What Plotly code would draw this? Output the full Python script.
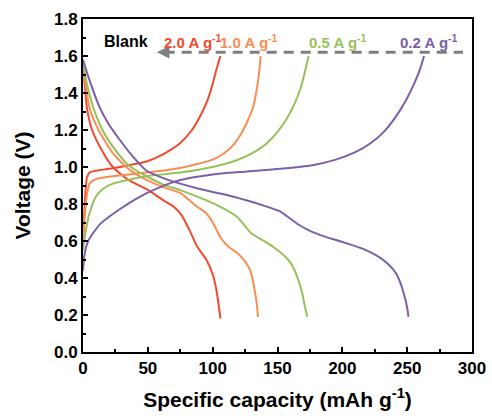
import plotly.graph_objects as go

# ---- data (capacity mAh/g, voltage V) ----
red_dis_x = [0, 1, 3, 7, 13, 23, 35, 49, 62, 70, 76, 82, 88, 95, 100, 103, 106]
red_dis_y = [1.58, 1.48, 1.32, 1.2, 1.11, 1.0, 0.93, 0.88, 0.82, 0.785, 0.74, 0.66, 0.57, 0.5, 0.42, 0.33, 0.18]
red_chg_x = [0, 1, 2, 3, 5, 10, 20, 35, 49, 62, 75, 84, 90, 96, 100, 103, 106]
red_chg_y = [0.6, 0.75, 0.88, 0.94, 0.97, 0.98, 0.99, 1.01, 1.03, 1.07, 1.13, 1.2, 1.27, 1.36, 1.45, 1.53, 1.6]

org_dis_x = [0, 2, 5, 12, 23, 35, 49, 62, 75, 82, 88, 95, 100, 106, 112, 119, 125, 129, 132, 134, 135]
org_dis_y = [1.56, 1.45, 1.32, 1.2, 1.075, 0.99, 0.93, 0.89, 0.86, 0.82, 0.785, 0.75, 0.7, 0.62, 0.57, 0.535, 0.49, 0.44, 0.35, 0.26, 0.19]
org_chg_x = [0, 1, 3, 5, 10, 23, 49, 75, 100, 108, 116, 122, 127, 131, 134, 136, 137]
org_chg_y = [0.58, 0.7, 0.85, 0.91, 0.935, 0.95, 0.97, 0.995, 1.04, 1.07, 1.12, 1.18, 1.25, 1.32, 1.42, 1.52, 1.6]

grn_dis_x = [0, 3, 8, 15, 23, 35, 49, 62, 75, 88, 100, 110, 119, 125, 130, 142, 152, 158, 162, 166, 169, 171, 173]
grn_dis_y = [1.57, 1.45, 1.32, 1.2, 1.11, 1.01, 0.95, 0.905, 0.875, 0.84, 0.805, 0.77, 0.73, 0.68, 0.64, 0.59, 0.54, 0.5, 0.46, 0.39, 0.32, 0.25, 0.19]
grn_chg_x = [0, 2, 5, 10, 15, 23, 49, 75, 100, 118, 132, 142, 150, 157, 163, 168, 171, 174]
grn_chg_y = [0.55, 0.65, 0.75, 0.84, 0.88, 0.91, 0.95, 0.97, 1.0, 1.035, 1.08, 1.13, 1.19, 1.26, 1.34, 1.43, 1.51, 1.6]

pur_dis_x = [0, 5, 13, 20, 28, 38, 49, 62, 75, 88, 100, 113, 126, 140, 152, 160, 167, 175, 186, 200, 215, 229, 236, 241, 245, 248, 250, 251]
pur_dis_y = [1.58, 1.47, 1.32, 1.23, 1.15, 1.06, 0.98, 0.94, 0.91, 0.885, 0.865, 0.845, 0.82, 0.79, 0.76, 0.72, 0.685, 0.655, 0.625, 0.595, 0.56, 0.51, 0.47, 0.43, 0.37, 0.3, 0.24, 0.19]
pur_chg_x = [0, 1, 4, 13, 28, 44, 59, 75, 100, 125, 152, 177, 195, 210, 222, 232, 241, 249, 256, 260, 263]
pur_chg_y = [0.44, 0.52, 0.6, 0.69, 0.77, 0.84, 0.89, 0.93, 0.96, 0.975, 0.99, 1.01, 1.04, 1.08, 1.13, 1.19, 1.27, 1.36, 1.46, 1.53, 1.6]

labels = ["2.0 A g<sup>-1</sup>", "1.0 A g<sup>-1</sup>", "0.5 A g<sup>-1</sup>", "0.2 A g<sup>-1</sup>"]
label_x = [85, 128, 197, 267]
colors = ["#F04A2E", "#F98D52", "#97C05A", "#7C5FAA"]

series = [
    (red_dis_x, red_dis_y, red_chg_x, red_chg_y),
    (org_dis_x, org_dis_y, org_chg_x, org_chg_y),
    (grn_dis_x, grn_dis_y, grn_chg_x, grn_chg_y),
    (pur_dis_x, pur_dis_y, pur_chg_x, pur_chg_y),
]

FONT = "Arial, Liberation Sans, sans-serif"

fig = go.Figure()
for (dx, dy, cx, cy), c in zip(series, colors):
    for xs, ys in ((dx, dy), (cx, cy)):
        fig.add_trace(go.Scatter(x=xs, y=ys, mode="lines",
                                 line=dict(color=c, width=2, shape="spline", smoothing=0.6),
                                 showlegend=False, hoverinfo="skip"))

# dashed arrow
fig.add_shape(type="line", x0=63, x1=293, y0=1.62, y1=1.62, xref="x", yref="y",
              line=dict(color="#7F7F7F", width=3, dash="10px,7px"))
fig.add_annotation(x=57, y=1.62, ax=66, ay=1.62, xref="x", yref="y", axref="x", ayref="y",
                   text="", showarrow=True, arrowhead=2, arrowsize=1, arrowwidth=2.5,
                   arrowcolor="#7F7F7F")

fig.add_annotation(x=33, y=1.68, text="<b>Blank</b>", showarrow=False,
                   font=dict(family=FONT, size=16, color="black"))
for t, lx, c in zip(labels, label_x, colors):
    fig.add_annotation(x=lx, y=1.68, text="<b>" + t + "</b>", showarrow=False,
                       font=dict(family=FONT, size=15, color=c))

axis_common = dict(showline=True, linecolor="black", linewidth=2, mirror=True,
                   ticks="inside", ticklen=5, tickwidth=2, tickcolor="black",
                   showgrid=False, zeroline=False, automargin=False,
                   tickfont=dict(family=FONT, size=17, color="black", weight="bold"))

fig.update_xaxes(range=[0, 300], dtick=50, tick0=0,
                 minor=dict(ticks="inside", ticklen=3, tickwidth=1.5, dtick=25, tickcolor="black"),
                 title=dict(text="<b>Specific capacity (mAh g<sup>-1</sup>)</b>",
                            font=dict(family=FONT, size=21, color="black"), standoff=15),
                 tickformat="d", **axis_common)
fig.update_yaxes(range=[0, 1.8], dtick=0.2, tick0=0,
                 minor=dict(ticks="inside", ticklen=3, tickwidth=1.5, dtick=0.1, tickcolor="black"),
                 title=dict(text="<b>Voltage (V)</b>",
                            font=dict(family=FONT, size=21, color="black"), standoff=18),
                 tickformat=".1f", **axis_common)

fig.update_layout(width=492, height=416, margin=dict(l=83, r=20, t=19, b=64),
                  plot_bgcolor="white", paper_bgcolor="white",
                  font=dict(family=FONT, color="black"))

fig.write_html("out.html", config={"displayModeBar": False},
               post_script="document.body.style.margin='0px';")
